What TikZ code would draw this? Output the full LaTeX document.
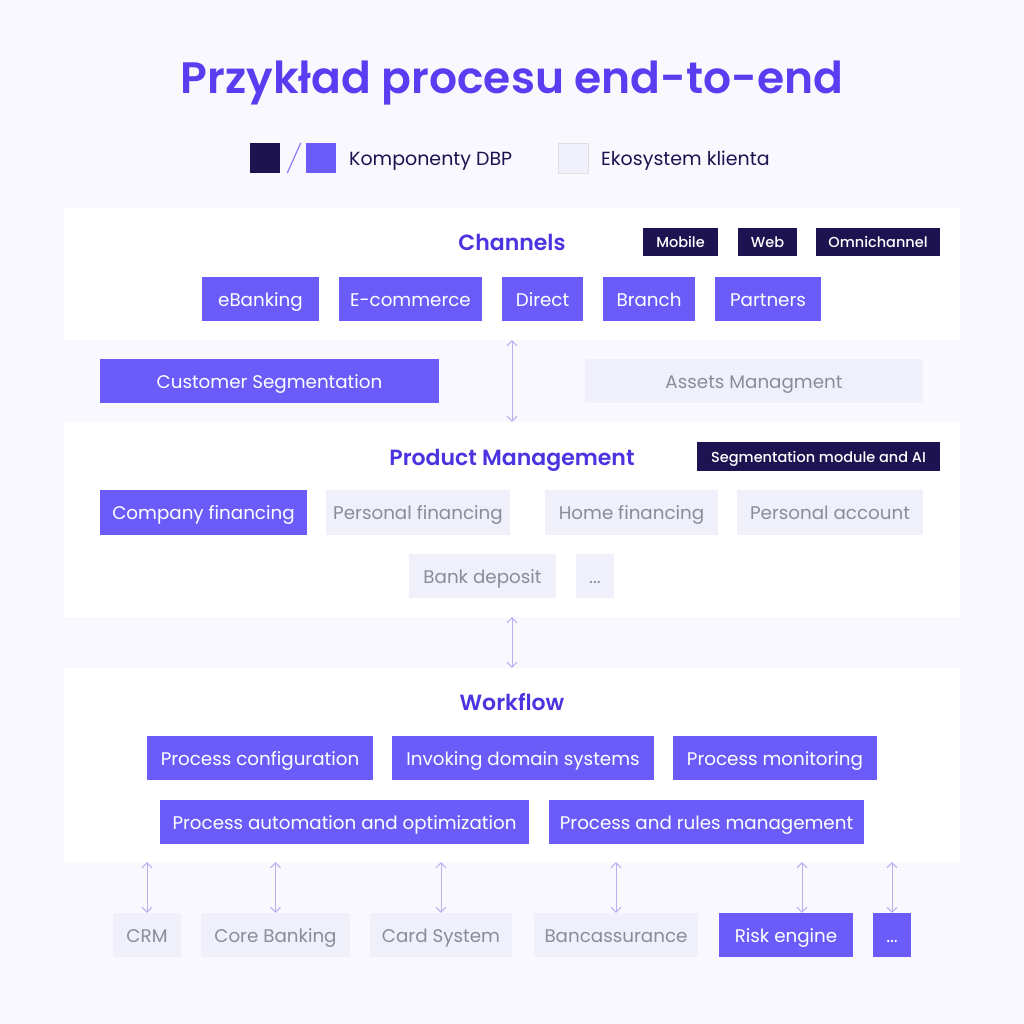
\documentclass[tikz,border=0pt]{standalone}
\usepackage{fontspec}
\setmainfont{Poppins}[BoldFont={Poppins SemiBold}]
\newfontfamily\medfont{Poppins Medium}
\usetikzlibrary{arrows.meta}
\definecolor{bgc}{HTML}{F8F8FE}
\definecolor{purp}{HTML}{6B5CFA}
\definecolor{navy}{HTML}{1C1350}
\definecolor{lite}{HTML}{F0F0FA}
\definecolor{litetxt}{HTML}{8C8C99}
\definecolor{head}{HTML}{4B34E0}
\definecolor{ttl}{HTML}{5A3DF0}
\definecolor{arr}{HTML}{B9B0F2}
\tikzset{
  panel/.style={fill=white, draw=none, inner sep=0pt},
  boxbase/.style={inner sep=0pt, text height=14pt, text depth=0pt, font=\fontsize{18.3}{22}\selectfont},
  pbox/.style={boxbase, fill=purp, text=white},
  lbox/.style={boxbase, fill=lite, text=litetxt},
  nbox/.style={fill=navy, text=white, inner sep=0pt, text height=11pt, text depth=0pt, font=\fontsize{14.5}{17}\selectfont\medfont},
  heading/.style={text=head, font=\fontsize{22}{26}\selectfont\bfseries, inner sep=0pt, text height=16pt, text depth=0pt},
  legtext/.style={anchor=west, text=navy, font=\fontsize{19}{22}\selectfont, inner sep=0pt, text height=14pt, text depth=0pt},
  conn/.style={draw=arr, line width=1pt, {Straight Barb[length=5pt,width=10pt]}-{Straight Barb[length=5pt,width=10pt]}},
}
\begin{document}
\begin{tikzpicture}[x=1pt,y=-1pt]
\fill[bgc] (0,0) rectangle (1024,1024);
\useasboundingbox (0,0) rectangle (1024,1024);
% title
\node[text=ttl, font=\fontsize{44}{52}\selectfont\bfseries, inner sep=0pt, text height=32pt, text depth=2pt] (title) at (512,79) {Przykład procesu end-to-end};
% legend
\node[fill=navy, minimum width=30, minimum height=30, inner sep=0pt] (lg1) at (265,158) {};
\node[fill=purp, minimum width=30, minimum height=30, inner sep=0pt] (lg2) at (321,158) {};
\draw[purp!80, line width=1.2pt] (lg1.south east) ++(7,0) coordinate (s1) -- ([xshift=-5]lg2.north west) coordinate (s2);
\node[legtext] (lgt1) at (349,159) {Komponenty DBP};
\node[fill=lite, draw=black!12, line width=0.8pt, minimum width=30, minimum height=30, inner sep=0pt] (lg3) at (573,158) {};
\node[legtext] (lgt2) at (601,159) {Ekosystem klienta};
% panels
\node[panel, minimum width=896, minimum height=132] (chan) at (512,274) {};
\node[panel, minimum width=896, minimum height=195] (prod) at (512,519.5) {};
\node[panel, minimum width=896, minimum height=194] (wf) at (512,765) {};
% channels
\node[heading] (chh) at (512,243) {Channels};
\node[nbox, minimum width=75, minimum height=28] (mob) at (680.5,242) {Mobile};
\node[nbox, minimum width=59, minimum height=28] (web) at (767.5,242) {Web};
\node[nbox, minimum width=124, minimum height=28] (omni) at (878,242) {Omnichannel};
\node[pbox, minimum width=117, minimum height=44] (eb) at (260.5,299) {eBanking};
\node[pbox, minimum width=143, minimum height=44] (ec) at (410.5,299) {E-commerce};
\node[pbox, minimum width=81, minimum height=44] (dir) at (542.5,299) {Direct};
\node[pbox, minimum width=92, minimum height=44] (br) at (649,299) {Branch};
\node[pbox, minimum width=106, minimum height=44] (pa) at (768,299) {Partners};
% middle
\node[pbox, minimum width=339, minimum height=44] (cs) at (269.5,381) {Customer Segmentation};
\node[lbox, minimum width=338, minimum height=44] (am) at (754,381) {Assets Managment};
% product
\node[heading] (pmh) at (512,457) {Product Management};
\node[nbox, minimum width=243, minimum height=29] (seg) at (818.5,456.5) {Segmentation module and AI};
\node[pbox, minimum width=207, minimum height=45] (cf) at (203.5,512.5) {Company financing};
\node[lbox, minimum width=184, minimum height=45] (pf) at (418,512.5) {Personal financing};
\node[lbox, minimum width=173, minimum height=45] (hf) at (631.5,512.5) {Home financing};
\node[lbox, minimum width=186, minimum height=45] (pac) at (830,512.5) {Personal account};
\node[lbox, minimum width=147, minimum height=44] (bd) at (482.5,576) {Bank deposit};
\node[lbox, minimum width=38, minimum height=44] (dots1) at (595,576) {...};
% workflow
\node[heading] (wfh) at (512,702) {Workflow};
\node[pbox, minimum width=226, minimum height=44] (pc) at (260,758) {Process configuration};
\node[pbox, minimum width=262, minimum height=44] (ids) at (523,758) {Invoking domain systems};
\node[pbox, minimum width=204, minimum height=44] (pm) at (775,758) {Process monitoring};
\node[pbox, minimum width=369, minimum height=44] (pao) at (344.5,822) {Process automation and optimization};
\node[pbox, minimum width=315, minimum height=44] (prm) at (706.5,822) {Process and rules management};
% systems
\node[lbox, minimum width=68, minimum height=44] (crm) at (147,935) {CRM};
\node[lbox, minimum width=149, minimum height=44] (cb) at (275.5,935) {Core Banking};
\node[lbox, minimum width=142, minimum height=44] (cards) at (441,935) {Card System};
\node[lbox, minimum width=164, minimum height=44] (ba) at (616,935) {Bancassurance};
\node[pbox, minimum width=134, minimum height=44] (re) at (786,935) {Risk engine};
\node[pbox, minimum width=38, minimum height=44] (dots2) at (892,935) {...};
% connectors
\draw[conn] (chan.south) -- (prod.north);
\draw[conn] (prod.south) -- (wf.north);
\draw[conn] (crm.north |- wf.south) -- (crm.north);
\draw[conn] (cb.north |- wf.south) -- (cb.north);
\draw[conn] (cards.north |- wf.south) -- (cards.north);
\draw[conn] (ba.north |- wf.south) -- (ba.north);
\draw[conn] ([xshift=16]re.north |- wf.south) -- ([xshift=16]re.north);
\draw[conn] (dots2.north |- wf.south) -- (dots2.north);
\end{tikzpicture}
\end{document}
